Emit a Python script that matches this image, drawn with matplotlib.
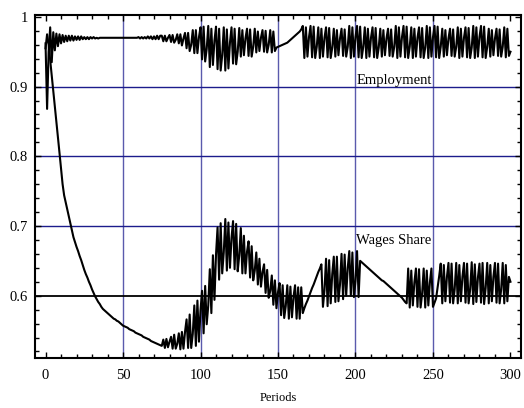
import matplotlib

matplotlib.use("Agg")
import matplotlib.pyplot as plt
import numpy as np
from matplotlib.ticker import MultipleLocator

# employment rate, one value per period (0..300)
employment = [
    0.962, 0.868, 0.950, 0.985, 0.935, 0.978, 0.952, 0.976, 0.958, 0.975, 0.962, 0.974, 0.964,
    0.973, 0.965, 0.973, 0.966, 0.973, 0.966, 0.972, 0.967, 0.972, 0.967, 0.972, 0.968, 0.971,
    0.968, 0.971, 0.968, 0.971, 0.969, 0.971, 0.969, 0.970, 0.969, 0.970, 0.970, 0.970, 0.970,
    0.970,
    0.970, 0.970, 0.970, 0.970, 0.970, 0.970, 0.970, 0.970, 0.970, 0.970,
    0.970, 0.970, 0.970, 0.970, 0.970, 0.970, 0.970, 0.970, 0.970, 0.970,
    0.971, 0.969, 0.971, 0.969, 0.971, 0.969, 0.972, 0.969, 0.972, 0.968, 0.972, 0.968, 0.973,
    0.968, 0.973,
    # cycle builds up 75..148
    0.973, 0.965, 0.973, 0.965, 0.970, 0.974, 0.964, 0.974, 0.963, 0.967, 0.975, 0.962, 0.975,
    0.959, 0.969, 0.977, 0.955, 0.977, 0.951, 0.960, 0.981, 0.948, 0.981, 0.948, 0.971, 0.985,
    0.939, 0.986, 0.936, 0.954, 0.987, 0.928, 0.983, 0.931, 0.966, 0.986, 0.925, 0.983, 0.923,
    0.945, 0.985, 0.923, 0.982, 0.926, 0.963, 0.985, 0.933, 0.983, 0.932, 0.950, 0.984, 0.943,
    0.981, 0.945, 0.969, 0.983, 0.944, 0.982, 0.943, 0.957, 0.983, 0.949, 0.979, 0.951, 0.970,
    0.981, 0.950, 0.980, 0.949, 0.960, 0.981, 0.949, 0.979, 0.951,
    # smooth stretch 149..165
    0.956, 0.957, 0.958, 0.959, 0.960, 0.961, 0.962, 0.963, 0.965, 0.967, 0.969, 0.971, 0.973,
    0.975, 0.977, 0.979, 0.982,
    # sustained cycle 166..300
    0.987, 0.941, 0.985, 0.943, 0.971, 0.987, 0.942, 0.986, 0.941, 0.957,
    0.985, 0.941, 0.983, 0.943, 0.970, 0.985, 0.942, 0.984, 0.941, 0.956,
    0.983, 0.943, 0.981, 0.945, 0.969, 0.983, 0.944, 0.982, 0.943, 0.957,
    0.987, 0.941, 0.985, 0.943, 0.971, 0.987, 0.942, 0.986, 0.941, 0.957,
    0.985, 0.941, 0.983, 0.943, 0.970, 0.985, 0.942, 0.984, 0.941, 0.956,
    0.983, 0.943, 0.981, 0.945, 0.969, 0.983, 0.944, 0.982, 0.943, 0.957,
    0.987, 0.941, 0.985, 0.943, 0.971, 0.987, 0.942, 0.986, 0.941, 0.957,
    0.985, 0.941, 0.983, 0.943, 0.970, 0.985, 0.942, 0.984, 0.941, 0.956,
    0.987, 0.941, 0.985, 0.943, 0.971, 0.987, 0.942, 0.986, 0.941, 0.957,
    0.983, 0.943, 0.981, 0.945, 0.969, 0.983, 0.944, 0.982, 0.943, 0.957,
    0.985, 0.941, 0.983, 0.943, 0.970, 0.985, 0.942, 0.984, 0.941, 0.956,
    0.987, 0.941, 0.985, 0.943, 0.971, 0.987, 0.942, 0.986, 0.941, 0.957,
    0.983, 0.943, 0.981, 0.945, 0.969, 0.983, 0.944, 0.982, 0.943, 0.957,
    0.985, 0.942, 0.983, 0.944, 0.950,
]

# wage share, one value per period (0..300)
wages = [
    0.955, 0.975, 0.960, 0.938, 0.916, 0.893, 0.871, 0.849, 0.827, 0.805, 0.782, 0.760, 0.744,
    0.734, 0.724, 0.714, 0.704, 0.694, 0.684, 0.677, 0.670, 0.664, 0.657, 0.651, 0.644, 0.637,
    0.631, 0.626, 0.620, 0.615, 0.609, 0.604, 0.599, 0.595, 0.591, 0.588, 0.584, 0.581, 0.579,
    0.577, 0.575, 0.573, 0.571, 0.569, 0.567, 0.566, 0.564, 0.563, 0.561, 0.559, 0.557, 0.556,
    0.555, 0.554, 0.552, 0.551, 0.550, 0.549, 0.547, 0.546, 0.545, 0.544, 0.543, 0.541, 0.540,
    0.539, 0.538, 0.537, 0.535, 0.534, 0.533, 0.532, 0.531, 0.530, 0.529, 0.528,
    # cycle 76..164
    0.537, 0.525, 0.538, 0.526, 0.534, 0.541, 0.524, 0.544, 0.524, 0.531, 0.546, 0.523, 0.548,
    0.524, 0.548, 0.566, 0.525, 0.573, 0.525, 0.545, 0.586, 0.528, 0.593, 0.534, 0.579, 0.607,
    0.546, 0.614, 0.559, 0.586, 0.638, 0.575, 0.658, 0.594, 0.659, 0.698, 0.623, 0.704, 0.632,
    0.662, 0.710, 0.636, 0.705, 0.640, 0.683, 0.707, 0.638, 0.703, 0.635, 0.658, 0.697, 0.632,
    0.686, 0.632, 0.663, 0.678, 0.626, 0.671, 0.622, 0.636, 0.662, 0.616, 0.653, 0.613, 0.634,
    0.645, 0.604, 0.637, 0.597, 0.607, 0.629, 0.587, 0.622, 0.582, 0.605, 0.618, 0.572, 0.615,
    0.568, 0.585, 0.615, 0.567, 0.613, 0.569, 0.598, 0.615, 0.567, 0.612, 0.567,
    # spike then climb 165..178
    0.612, 0.575, 0.582, 0.588, 0.593, 0.599, 0.605, 0.611, 0.616, 0.622, 0.628, 0.634, 0.639,
    0.645,
    # cycle 179..202
    0.584, 0.608, 0.653, 0.585, 0.651, 0.589, 0.631, 0.656, 0.591, 0.656, 0.592, 0.616, 0.660,
    0.595, 0.659, 0.600, 0.640, 0.664, 0.600, 0.662, 0.598, 0.621, 0.664, 0.598,
    # slide down 203..233
    0.650, 0.648, 0.646, 0.644, 0.642, 0.640, 0.638, 0.636, 0.634, 0.632, 0.630, 0.628, 0.626,
    0.624, 0.622, 0.621, 0.619, 0.617, 0.615, 0.613, 0.611, 0.609, 0.607, 0.605, 0.603, 0.601,
    0.599, 0.597, 0.594, 0.591, 0.589,
    # cycle 234..250, climb 251..255
    0.639, 0.583, 0.636, 0.586, 0.619, 0.639, 0.584, 0.638, 0.583, 0.603,
    0.639, 0.583, 0.636, 0.586, 0.619, 0.639, 0.584,
    0.590, 0.596, 0.612, 0.628, 0.646,
    # cycle 256..300
    0.589, 0.644, 0.592, 0.627, 0.647, 0.590, 0.646, 0.589, 0.609,
    0.647, 0.589, 0.644, 0.592, 0.627, 0.647, 0.590, 0.646, 0.589, 0.609,
    0.648, 0.588, 0.645, 0.591, 0.626, 0.646, 0.590, 0.647, 0.588, 0.611,
    0.647, 0.589, 0.644, 0.592, 0.627, 0.647, 0.590, 0.646, 0.589, 0.609,
    0.647, 0.589, 0.644, 0.592, 0.627, 0.620,
]

x_major = [0, 50, 100, 150, 200, 250, 300]
y_major = [0.6, 0.7, 0.8, 0.9, 1.0]
y_labels = ["0.6", "0.7", "0.8", "0.9", "1"]
v_grid = [50, 100, 150, 200, 250]
h_grid = [0.7, 0.8, 0.9]

plt.rcParams["font.family"] = ["Liberation Serif", "DejaVu Serif"]

fig = plt.figure(figsize=(5.24, 4.08), dpi=100)
ax = fig.add_axes([35 / 524, 50 / 408, 486 / 524, 343 / 408])

for xv in v_grid:
    ax.axvline(xv, color="#5a5aad", lw=1.0, zorder=1)
for yv in h_grid:
    ax.axhline(yv, color="#1c1c8c", lw=1.0, zorder=1)
ax.axhline(0.6, color="black", lw=1.3, zorder=1)

ax.plot(np.arange(len(employment)), employment, color="black", lw=1.5, zorder=3)
ax.plot(np.arange(len(wages)), wages, color="black", lw=1.5, zorder=3)

ax.text(200.5, 0.909, "Employment", fontsize=10.5, va="center", ha="left", zorder=4)
ax.text(200.5, 0.679, "Wages Share", fontsize=10.5, va="center", ha="left", zorder=4)

ax.set_xlim(-6.8, 306.8)
ax.set_ylim(0.5106, 1.0027)
ax.set_xticks(x_major)
ax.set_yticks(y_major)
ax.set_yticklabels(y_labels)
ax.xaxis.set_minor_locator(MultipleLocator(10))
ax.yaxis.set_minor_locator(MultipleLocator(0.02))
ax.tick_params(which="both", direction="in", top=True, right=True,
               labelsize=10.5, width=1.0)
ax.tick_params(which="major", length=4, pad=8)
ax.tick_params(which="minor", length=3)
ax.tick_params(axis="y", which="major", pad=5)
for sp in ax.spines.values():
    sp.set_linewidth(1.5)
ax.set_xlabel("Periods", fontsize=9, labelpad=7)

fig.savefig("out.png", dpi=100)
print(len(employment), len(wages))
